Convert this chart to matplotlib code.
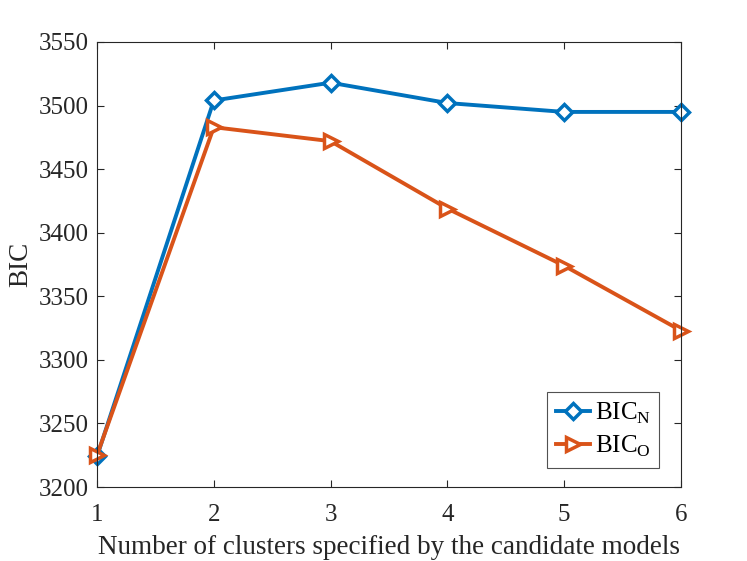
import matplotlib
matplotlib.use("Agg")
import matplotlib.pyplot as plt

plt.rcParams["font.family"] = ["Liberation Serif", "DejaVu Serif"]
plt.rcParams["mathtext.fontset"] = "custom"
plt.rcParams["mathtext.rm"] = "Liberation Serif"

clusters = [1, 2, 3, 4, 5, 6]
bic_n = [3224, 3504, 3518, 3502, 3495, 3495]
bic_o = [3225, 3483, 3472, 3419, 3374, 3323]

fig = plt.figure(figsize=(7.47, 5.61), dpi=100)
ax = fig.add_axes([97 / 747, 1 - 487 / 561, (681 - 97) / 747, (487 - 42) / 561])

ax.plot(clusters, bic_n, color="#0072BD", lw=2.8, marker="D", ms=8, mfc="white",
        mew=2.5, label=r"BIC$_{\mathrm{N}}$", clip_on=False)
ax.plot(clusters, bic_o, color="#D95319", lw=2.8, marker=">", ms=10, mfc="white",
        mew=2.5, label=r"BIC$_{\mathrm{O}}$", clip_on=False)

ax.set_xlim(1, 6)
ax.set_ylim(3200, 3550)
ax.set_xticks(clusters)
ax.set_yticks(range(3200, 3551, 50))
ax.tick_params(direction="in", top=True, right=True, labelsize=18, length=5,
               width=0.8, colors="#262626")
ax.tick_params(axis="x", pad=12)
ax.tick_params(axis="y", pad=6)
for s in ax.spines.values():
    s.set_color("#262626")
    s.set_linewidth(0.8)
ax.set_xlabel("Number of clusters specified by the candidate models", fontsize=19.5,
              color="#262626", labelpad=7)
ax.set_ylabel("BIC", fontsize=19.5, color="#262626", labelpad=4)

leg = ax.legend(loc="lower right", fontsize=18, fancybox=False, edgecolor="#262626",
                handlelength=1.35, handletextpad=0.2, borderpad=0.35, labelspacing=0.3,
                borderaxespad=0, bbox_to_anchor=(0.963, 0.043))
leg.get_frame().set_linewidth(0.8)

fig.savefig("out.png", dpi=100)
